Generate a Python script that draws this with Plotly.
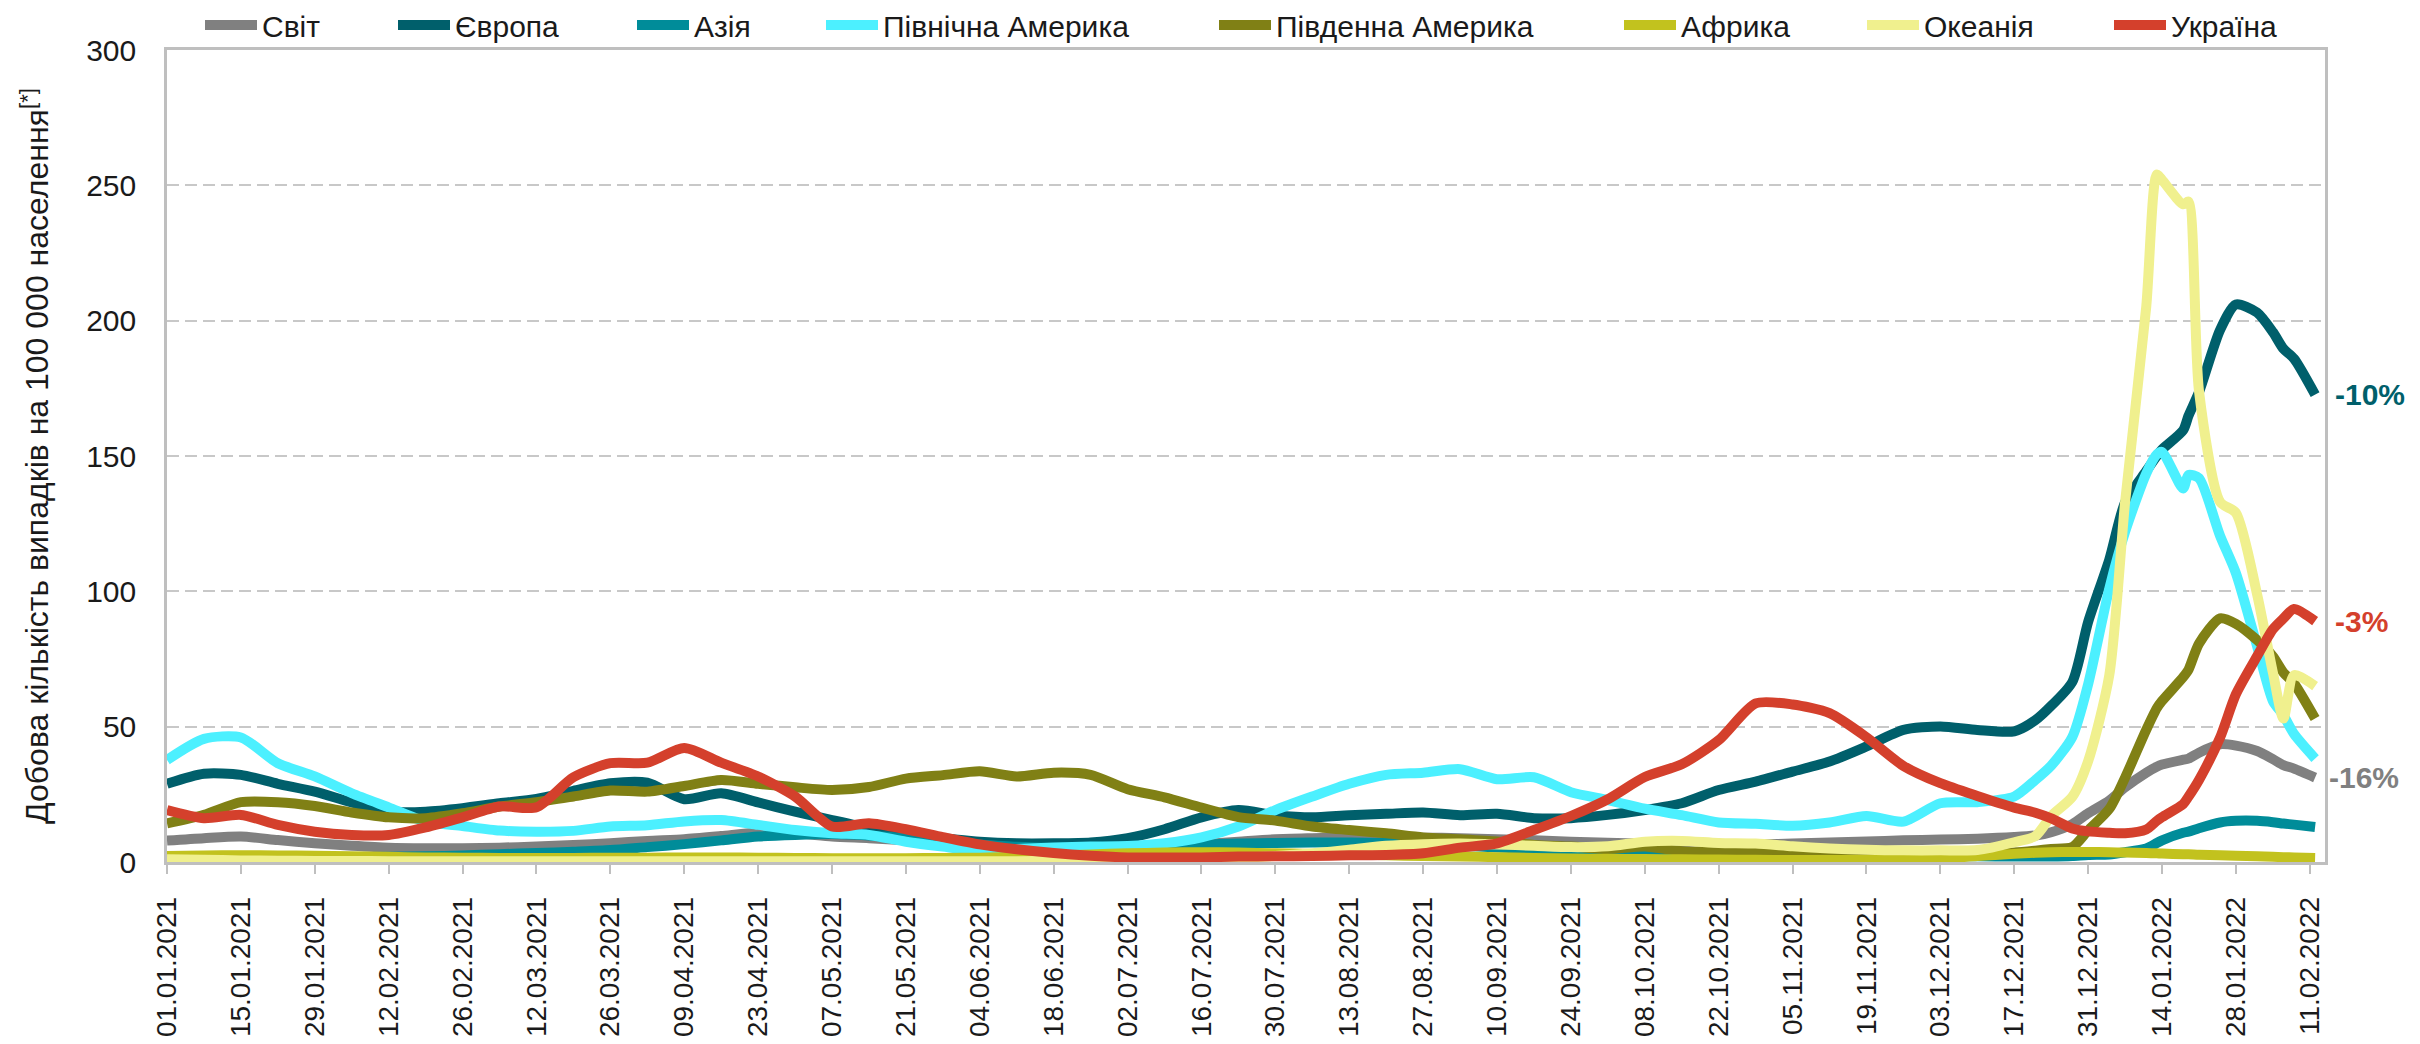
import plotly.graph_objects as go

# ---- data ----
dates = [
    "2021-01-01", "2021-01-08", "2021-01-15", "2021-01-22", "2021-01-29", "2021-02-05", "2021-02-12",
    "2021-02-19", "2021-02-26", "2021-03-05", "2021-03-12", "2021-03-19", "2021-03-26", "2021-04-02",
    "2021-04-09", "2021-04-16", "2021-04-23", "2021-04-30", "2021-05-07", "2021-05-14", "2021-05-21",
    "2021-05-28", "2021-06-04", "2021-06-11", "2021-06-18", "2021-06-25", "2021-07-02", "2021-07-09",
    "2021-07-16", "2021-07-23", "2021-07-30", "2021-08-06", "2021-08-13", "2021-08-20", "2021-08-27",
    "2021-09-03", "2021-09-10", "2021-09-17", "2021-09-24", "2021-10-01", "2021-10-08", "2021-10-15",
    "2021-10-22", "2021-10-29", "2021-11-05", "2021-11-12", "2021-11-19", "2021-11-26", "2021-12-03",
    "2021-12-10", "2021-12-17",
    "2021-12-21", "2021-12-24", "2021-12-28", "2021-12-31", "2022-01-04", "2022-01-07", "2022-01-11",
    "2022-01-13", "2022-01-14", "2022-01-18", "2022-01-19", "2022-01-21", "2022-01-25", "2022-01-28",
    "2022-02-01", "2022-02-04", "2022-02-06", "2022-02-08", "2022-02-12",
]

world = [
    7.9, 8.8, 9.4, 8.1, 6.9, 6.0, 5.3, 5.1, 5.1, 5.3, 5.7, 6.3, 6.9, 7.8, 8.4, 9.6, 10.9, 10.6, 9.4,
    8.8, 8.0, 7.2, 6.5, 5.8, 5.5, 5.5, 5.7, 6.0, 6.6, 7.5, 8.4, 8.8, 9.1, 9.1, 9.0, 8.8, 8.4, 8.0,
    7.5, 7.1, 6.8, 6.5, 6.4, 6.5, 6.8, 7.2, 7.6, 8.0, 8.3, 8.6, 9.2,
    9.8, 11.0, 14.0, 18.0, 22.7, 27.6, 33.0, 35.2, 36.0, 37.8, 38.2, 40.4, 43.5, 43.0, 41.0, 38.0, 35.8, 34.5, 31.2,
]
europe = [
    28.9, 32.6, 32.2, 28.9, 26.0, 22.0, 18.7, 18.6, 19.9, 21.7, 23.3, 26.3, 29.1, 29.3, 23.2, 25.4, 22.0, 18.6, 15.5,
    12.5, 10.0, 8.8, 7.5, 6.9, 6.9, 7.2, 8.8, 12.1, 16.5, 19.2, 17.3, 16.5, 17.3, 17.8, 18.3, 17.3, 17.8, 16.2,
    16.2, 17.4, 19.2, 21.7, 26.6, 29.7, 33.4, 37.1, 42.7, 48.8, 50.1, 48.8, 48.3,
    52.4, 57.7, 66.5, 88.7, 111.7, 132.9, 144.4, 150.0, 152.4, 159.5, 164.8, 173.6, 196.6, 206.0, 203.0, 195.8, 189.6, 186.0, 172.7,
]
asia = [
    1.5, 1.6, 1.7, 1.7, 1.7, 1.8, 1.9, 2.1, 2.4, 2.9, 3.3, 3.8, 4.4, 5.5, 6.6, 8.0, 9.4, 10.0, 10.3,
    9.8, 8.8, 7.6, 6.5, 5.6, 5.2, 5.2, 5.4, 5.9, 6.4, 6.8, 7.0, 7.2, 7.2, 7.0, 6.6, 6.0, 5.4, 4.8,
    4.2, 3.6, 3.2, 2.8, 2.5, 2.3, 2.2, 2.1, 2.1, 2.1, 2.1, 2.1, 2.0,
    2.0, 2.0, 2.2, 2.6, 2.8, 3.6, 5.0, 7.0, 8.0, 10.8, 11.2, 12.5, 14.6, 15.2, 15.2, 14.7, 14.2, 13.8, 12.9,
]
north_america = [
    37.7, 45.5, 46.0, 36.5, 31.6, 25.4, 20.2, 15.0, 13.3, 11.6, 11.2, 11.5, 13.1, 13.6, 15.0, 15.5, 13.7, 11.8, 10.6,
    10.0, 7.5, 5.7, 4.2, 4.8, 5.4, 5.7, 5.9, 6.9, 9.1, 13.1, 19.2, 24.2, 28.9, 32.2, 33.0, 34.3, 30.6, 31.3,
    25.8, 22.9, 19.7, 17.3, 14.6, 14.1, 13.4, 14.6, 17.0, 14.9, 21.7, 22.1, 24.2,
    30.3, 35.6, 46.2, 65.7, 101.0, 122.0, 143.5, 150.6, 151.5, 138.0, 143.0, 141.8, 120.5, 106.7, 79.8, 59.5, 54.2, 47.3, 38.2,
]
south_america = [
    14.3, 17.4, 22.1, 22.1, 20.7, 18.3, 16.5, 16.2, 18.0, 20.5, 22.1, 24.2, 26.4, 26.0, 28.1, 30.3, 28.9, 27.6, 26.6,
    27.7, 30.8, 32.1, 33.5, 31.6, 33.0, 32.2, 26.9, 23.9, 20.1, 16.6, 15.3, 13.1, 11.8, 10.6, 9.1, 8.4, 7.6, 6.3,
    5.7, 4.8, 5.7, 4.0, 3.6, 3.3, 3.0, 2.8, 2.6, 2.5, 2.5, 2.8, 3.5,
    4.2, 4.8, 5.5, 11.7, 19.6, 31.2, 48.8, 56.8, 59.5, 68.3, 71.0, 80.7, 90.0, 88.0, 82.0, 76.0, 70.0, 66.0, 53.0,
]
africa = [
    2.2, 2.4, 2.5, 2.4, 2.3, 2.1, 1.9, 1.7, 1.6, 1.5, 1.5, 1.5, 1.6, 1.6, 1.7, 1.7, 1.6, 1.5, 1.4,
    1.4, 1.4, 1.5, 1.6, 1.9, 2.3, 2.8, 3.2, 3.5, 3.6, 3.5, 3.2, 3.0, 2.8, 2.5, 2.2, 2.0, 1.8, 1.5,
    1.3, 1.2, 1.1, 1.0, 0.9, 0.8, 0.7, 0.7, 0.7, 0.8, 1.3, 2.2, 3.0,
    3.4, 3.6, 3.7, 3.7, 3.6, 3.5, 3.3, 3.2, 3.1, 2.9, 2.9, 2.7, 2.5, 2.3, 2.1, 1.9, 1.8, 1.7, 1.5,
]
oceania = [
    1.0, 0.8, 0.6, 0.5, 0.4, 0.4, 0.3, 0.3, 0.3, 0.3, 0.3, 0.3, 0.3, 0.3, 0.3, 0.3, 0.3, 0.3, 0.3,
    0.3, 0.3, 0.3, 0.3, 0.3, 0.4, 0.5, 0.6, 0.7, 1.0, 1.5, 2.2, 3.2, 4.5, 6.0, 6.6, 6.8, 6.5, 6.0,
    5.5, 5.8, 7.5, 7.8, 7.0, 6.8, 5.8, 5.0, 4.5, 4.3, 4.3, 4.4, 7.3,
    9.6, 17.0, 24.1, 37.3, 69.0, 133.0, 205.0, 254.0, 252.0, 243.0, 244.0, 174.0, 133.0, 129.0, 99.0, 70.0, 53.0, 69.0, 65.0,
]
ukraine = [
    19.2, 16.2, 17.4, 13.7, 11.2, 10.0, 10.0, 12.8, 16.5, 20.5, 20.2, 31.3, 36.5, 36.7, 42.1, 36.7, 31.6, 24.2, 13.1,
    14.3, 12.1, 9.2, 6.5, 4.7, 3.3, 2.3, 1.7, 1.7, 1.7, 2.0, 2.1, 2.2, 2.5, 2.6, 3.2, 5.3, 6.9, 11.8,
    17.0, 23.2, 31.4, 36.1, 45.0, 58.6, 58.2, 55.0, 46.1, 35.5, 29.1, 24.4, 20.1,
    18.2, 16.1, 12.4, 11.3, 10.8, 10.6, 12.0, 15.2, 16.6, 21.4, 24.1, 30.3, 46.0, 62.0, 76.0, 86.0, 90.0, 93.5, 89.0,
]

names = ["Світ", "Європа", "Азія", "Північна Америка", "Південна Америка", "Африка", "Океанія", "Україна"]
colors = ["#808080", "#005F6B", "#008C99", "#4CF0FF", "#808015", "#C2C21E", "#F0F08E", "#D4402C"]
values = [world, europe, asia, north_america, south_america, africa, oceania, ukraine]

# change labels at the right edge
change_labels = ["-10%", "-3%", "-16%"]
change_series = [1, 7, 0]

tick_vals_y = [0, 50, 100, 150, 200, 250, 300]

FONT = "Liberation Sans, Arial, sans-serif"

# geometry (pixels)
W, H = 2420, 1044
ML, MR, MT, MB = 167, 95, 50, 182
PW = W - ML - MR
PH = H - MT - MB

# legend text start x (px) in reference
legend_text_x = [262, 455, 694, 883, 1276, 1681, 1924, 2171]
ITEMW = 52
TEXT_OFF = ITEMW + 10

fig = go.Figure()
for i, (nm, vals, col) in enumerate(zip(names, values, colors)):
    lg = "legend" if i == 0 else f"legend{i + 1}"
    fig.add_trace(go.Scatter(
        x=dates, y=vals, name=nm, mode="lines",
        line=dict(color=col, width=10, shape="spline", smoothing=0.7),
        legend=lg, showlegend=True, hoverinfo="x+y+name",
    ))

layout_legends = {}
for i in range(len(names)):
    key = "legend" if i == 0 else f"legend{i + 1}"
    px = legend_text_x[i] - TEXT_OFF
    layout_legends[key] = dict(
        x=(px - ML) / PW, xanchor="left",
        y=1 + 25 / PH, yanchor="middle",
        orientation="h",
        font=dict(family=FONT, size=30, color="#1a1a1a"),
        itemwidth=ITEMW, bgcolor="rgba(0,0,0,0)", borderwidth=0,
        itemclick=False, itemdoubleclick=False,
    )

annotations = []
for lab, si in zip(change_labels, change_series):
    annotations.append(dict(
        xref="paper", yref="y", x=1, y=values[si][-1],
        text=f"<b>{lab}</b>", showarrow=False,
        xanchor="left", yanchor="middle", xshift=8 if lab != "-16%" else 2,
        font=dict(family=FONT, size=30, color=colors[si]),
    ))

fig.update_layout(
    width=W, height=H,
    margin=dict(l=ML, r=MR, t=MT, b=MB, pad=0, autoexpand=False),
    showlegend=True,
    paper_bgcolor="white", plot_bgcolor="white",
    font=dict(family=FONT, size=29, color="#1a1a1a"),
    annotations=annotations,
    **layout_legends,
)

fig.update_xaxes(
    type="date",
    range=["2021-01-01", "2022-02-13 21:00"],
    tick0="2021-01-01", dtick=14 * 86400000,
    tickformat="%d.%m.%Y", tickangle=-90,
    tickfont=dict(family=FONT, size=28, color="#1a1a1a"),
    ticks="outside", ticklen=9, tickwidth=2, tickcolor="#BFBFBF",
    ticklabelstandoff=12, automargin=False,
    showgrid=False, zeroline=False,
    showline=True, linecolor="#BFBFBF", linewidth=2.5, mirror=True,
)
fig.update_yaxes(
    range=[0, 300], tickvals=tick_vals_y,
    tickfont=dict(family=FONT, size=30, color="#1a1a1a"),
    ticks="", ticklabelstandoff=22, automargin=False,
    showgrid=True, gridcolor="#C8C8C8", gridwidth=1.5, griddash="12px,6px",
    zeroline=False,
    showline=True, linecolor="#BFBFBF", linewidth=2.5, mirror=True,
    title=dict(text="Добова кількість випадків на 100 000 населення<sup>[*]</sup>",
               font=dict(family=FONT, size=32, color="#1a1a1a"), standoff=28),
)

fig.write_html(
    "out.html",
    config={"displayModeBar": False},
    post_script="document.body.style.margin='0';document.body.style.overflow='hidden';",
)
